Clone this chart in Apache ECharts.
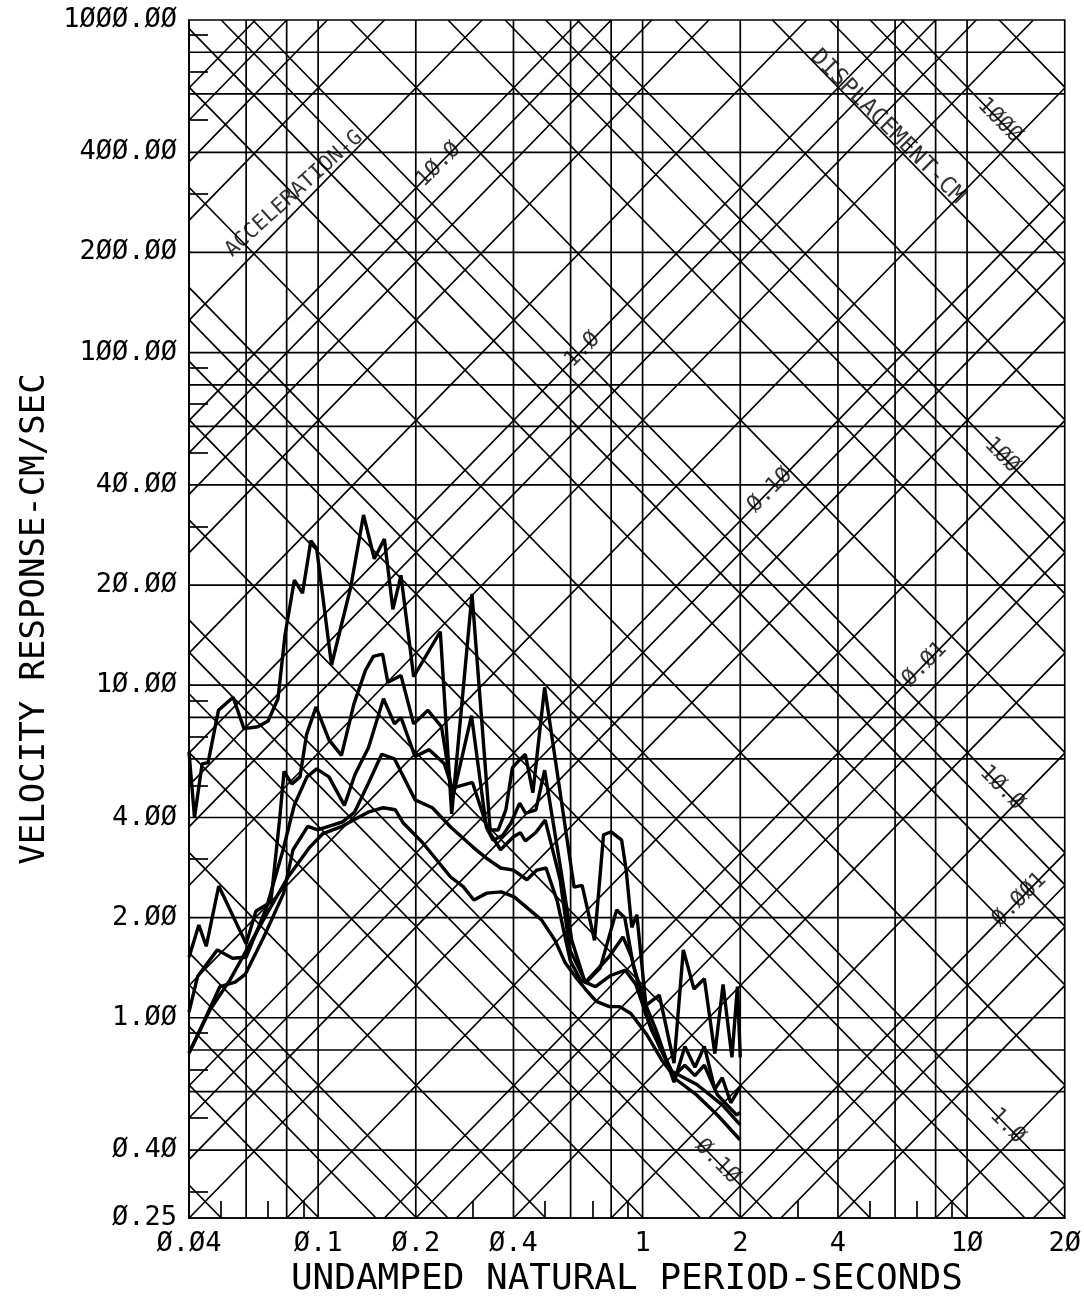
<!DOCTYPE html>
<html>
<head>
<meta charset="utf-8">
<title>Velocity response spectrum</title>
<script src="https://cdn.jsdelivr.net/npm/echarts@6/dist/echarts.min.js"></script>
<style>
  html, body { margin: 0; padding: 0; background: #fff; }
  #chart { width: 1084px; height: 1303px; }
</style>
</head>
<body>
<div id="chart"></div>
<script>
// damping curves: period (s) and velocity response (cm/sec)
var periods0 = [0.040,0.0416,0.0439,0.0458,0.0493,0.0547,0.0591,0.0652,0.0701,0.0752,0.0791,0.0845,0.0895,0.095,0.099,0.110,0.126,0.138,0.149,0.160,0.170,0.180,0.197,0.238,0.258,0.298,0.339,0.359,0.379,0.397,0.417,0.435,0.459,0.499,0.615,0.651,0.711,0.758,0.800,0.862,0.890,0.926,0.960,1.024,1.126,1.25,1.335,1.44,1.55,1.67,1.77,1.885,1.96,2.0];
var velocity0 = [6.3,4.0,5.8,5.85,8.4,9.2,7.4,7.5,7.8,9.1,14.2,20.7,18.9,27.2,25.7,11.5,19.7,32.5,24,27.5,16.9,21.4,10.6,14.5,4.1,18.8,3.67,3.67,4.22,5.65,5.95,6.2,4.75,9.85,2.47,2.5,1.71,3.55,3.62,3.42,2.78,1.87,2.04,1.09,1.17,0.73,1.60,1.22,1.31,0.78,1.26,0.76,1.24,0.76];

var periods2 = [0.040,0.0429,0.0452,0.0494,0.060,0.0643,0.0715,0.0762,0.0785,0.083,0.0879,0.0921,0.0985,0.108,0.118,0.129,0.140,0.148,0.158,0.164,0.180,0.197,0.218,0.240,0.260,0.297,0.330,0.346,0.371,0.393,0.418,0.436,0.469,0.499,0.560,0.605,0.666,0.740,0.832,0.881,0.937,1.024,1.10,1.25,1.35,1.45,1.55,1.67,1.76,1.87,2.0];
var velocity2 = [1.52,1.90,1.64,2.49,1.67,2.09,2.23,4.0,5.5,5.05,5.3,7.1,8.6,6.85,6.15,8.8,11.1,12.2,12.4,10.2,10.7,7.65,8.4,7.5,4.6,8.1,3.74,3.42,3.54,3.85,4.42,4.12,4.22,5.55,2.78,1.71,1.27,1.41,2.11,2.0,1.43,1.09,0.92,0.64,0.82,0.71,0.82,0.61,0.66,0.555,0.62];

var periods5 = [0.040,0.0425,0.0489,0.0545,0.060,0.0695,0.078,0.0845,0.0924,0.099,0.108,0.1205,0.130,0.143,0.159,0.172,0.180,0.199,0.220,0.245,0.259,0.299,0.334,0.365,0.400,0.420,0.435,0.468,0.501,0.557,0.597,0.667,0.786,0.870,0.925,1.02,1.14,1.25,1.35,1.45,1.55,1.70,1.82,1.95,2.0];
var velocity5 = [1.04,1.33,1.60,1.51,1.52,2.16,3.20,4.37,5.3,5.6,5.3,4.35,5.4,6.5,9.1,7.65,8.0,6.1,6.4,5.8,4.9,5.1,3.67,3.2,3.5,3.6,3.4,3.6,3.93,2.6,1.6,1.28,1.52,1.75,1.52,1.03,0.80,0.67,0.72,0.67,0.72,0.587,0.547,0.51,0.52];

var periods10 = [0.040,0.0428,0.0498,0.0555,0.0596,0.068,0.0783,0.0837,0.0929,0.0997,0.119,0.1295,0.143,0.157,0.172,0.199,0.225,0.2565,0.300,0.330,0.365,0.400,0.440,0.472,0.504,0.546,0.598,0.643,0.716,0.797,0.885,0.953,1.064,1.23,1.47,1.76,2.0];
var velocity10 = [0.783,0.90,1.24,1.28,1.35,1.75,2.37,3.2,3.76,3.67,3.88,4.15,5.08,6.2,6.0,4.52,4.28,3.74,3.26,3.02,2.82,2.78,2.6,2.78,2.82,2.24,1.49,1.30,1.24,1.34,1.39,1.26,0.92,0.69,0.63,0.547,0.476];

var periods20 = [0.040,0.0464,0.0535,0.0613,0.0706,0.081,0.0943,0.1035,0.119,0.1435,0.1585,0.173,0.183,0.210,0.256,0.280,0.302,0.331,0.367,0.402,0.441,0.488,0.537,0.578,0.620,0.666,0.720,0.790,0.850,0.920,1.03,1.145,1.275,1.47,1.70,2.0];
var velocity20 = [0.783,1.055,1.30,1.65,2.11,2.66,3.26,3.58,3.77,4.16,4.28,4.22,3.85,3.36,2.65,2.48,2.26,2.37,2.39,2.31,2.14,1.97,1.71,1.46,1.33,1.22,1.12,1.08,1.08,1.03,0.89,0.747,0.65,0.585,0.51,0.429];

// axes
var periodLabels = [0.04, 0.1, 0.2, 0.4, 1, 2, 4, 10, 20];
var periodGrid = [0.06, 0.08, 0.1, 0.2, 0.4, 0.6, 0.8, 1, 2, 4, 6, 8, 10];
var periodTicks = [0.05, 0.07, 0.09, 0.3, 0.5, 0.7, 0.9, 3, 5, 7, 9];
var velocityLabels = [1000, 400, 200, 100, 40, 20, 10, 4, 2, 1, 0.4, 0.25];
var velocityGrid = [800, 600, 400, 200, 100, 80, 60, 40, 20, 10, 8, 6, 4, 2, 1, 0.8, 0.6, 0.4];
var velocityTicks = [900, 700, 500, 300, 90, 70, 50, 30, 9, 7, 5, 3, 0.9, 0.7, 0.5, 0.3];

// diagonal scales (acceleration in g, displacement in cm)
var diagSteps = [1, 2, 4, 6, 8];
var accelDecades = [-5, -4, -3, -2, -1, 0, 1, 2];
var dispDecades = [-3, -2, -1, 0, 1, 2, 3];
var accelLevels = [10, 1, 0.1, 0.01, 0.001];
var accelLabelPeriods = [0.235, 0.653, 2.47, 7.4, 14.5];
var accelLabelTexts = ['1Ø.Ø', '1.Ø', 'Ø.1Ø', 'Ø.Ø1', 'Ø.ØØ1'];
var dispLevels = [1000, 100, 10, 1, 0.1];
var dispLabelPeriods = [12.6, 12.8, 12.8, 13.3, 1.7];
var dispLabelTexts = ['1ØØØ', '1ØØ', '1Ø.Ø', '1.Ø', 'Ø.1Ø'];

var G = 981;
var TMIN = 0.04, TMAX = 20, VMIN = 0.25, VMAX = 1000;
var FONT = 'DejaVu Sans Mono';

function plotterText(s) { return String(s).replace(/0/g, 'Ø'); }

function accelV(a, t) { return a * G * t / (2 * Math.PI); }
function dispV(d, t) { return 2 * Math.PI * d / t; }

var lt0 = Math.log10(TMIN), lt1 = Math.log10(TMAX);
var lv0 = Math.log10(VMIN), lv1 = Math.log10(VMAX);

function accelSegment(a) {
    var c = Math.log10(a * G / (2 * Math.PI));
    var s = Math.max(lt0, lv0 - c), e = Math.min(lt1, lv1 - c);
    if (e <= s) return null;
    return [[Math.pow(10, s), Math.pow(10, c + s)], [Math.pow(10, e), Math.pow(10, c + e)]];
}
function dispSegment(d) {
    var c = Math.log10(2 * Math.PI * d);
    var s = Math.max(lt0, c - lv1), e = Math.min(lt1, c - lv0);
    if (e <= s) return null;
    return [[Math.pow(10, s), Math.pow(10, c - s)], [Math.pow(10, e), Math.pow(10, c - e)]];
}

function gridLine(points) {
    return {
        type: 'line', data: points, symbol: 'none', silent: true,
        lineStyle: { color: '#000', width: 1.7 }, z: 1
    };
}

var series = [];
periodGrid.forEach(function (t) { series.push(gridLine([[t, VMIN], [t, VMAX]])); });
velocityGrid.forEach(function (v) { series.push(gridLine([[TMIN, v], [TMAX, v]])); });
accelDecades.forEach(function (k) {
    diagSteps.forEach(function (m) {
        var seg = accelSegment(m * Math.pow(10, k));
        if (seg) series.push(gridLine(seg));
    });
});
dispDecades.forEach(function (k) {
    diagSteps.forEach(function (m) {
        var seg = dispSegment(m * Math.pow(10, k));
        if (seg) series.push(gridLine(seg));
    });
});

var curves = [
    [periods0, velocity0], [periods2, velocity2], [periods5, velocity5],
    [periods10, velocity10], [periods20, velocity20]
];
curves.forEach(function (c) {
    series.push({
        type: 'line', symbol: 'none', silent: true, z: 3,
        data: c[0].map(function (t, i) { return [t, c[1][i]]; }),
        lineStyle: { color: '#000', width: 3.4 }
    });
});

// scale labels written along the diagonals
var notes = [];
accelLevels.forEach(function (a, i) {
    var t = accelLabelPeriods[i];
    notes.push({ value: [t, accelV(a, t)], label: { formatter: accelLabelTexts[i], rotate: 45 } });
});
dispLevels.forEach(function (d, i) {
    var t = dispLabelPeriods[i];
    notes.push({ value: [t, dispV(d, t)], label: { formatter: dispLabelTexts[i], rotate: -45 } });
});
notes.push({ value: [0.0843, 300], label: { formatter: 'ACCELERATION-G', rotate: 42, fontSize: 21 } });
notes.push({ value: [5.68, 477], label: { formatter: 'DISPLACEMENT-CM', rotate: -45, fontSize: 23 } });

series.push({
    type: 'scatter', data: notes, symbolSize: 1, silent: true, z: 4,
    itemStyle: { color: 'rgba(0,0,0,0)' },
    label: {
        show: true, position: 'inside', color: '#000',
        fontFamily: FONT, fontSize: 22, align: 'center', verticalAlign: 'middle'
    }
});

var chart = echarts.init(document.getElementById('chart'));
chart.setOption({
    backgroundColor: '#fff',
    animation: false,
    grid: {
        left: 189, right: 19, top: 20, bottom: 85,
        show: true, borderColor: '#000', borderWidth: 1.7
    },
    xAxis: {
        type: 'log', logBase: 10, min: TMIN, max: TMAX,
        name: 'UNDAMPED NATURAL PERIOD-SECONDS', nameLocation: 'middle', nameGap: 44,
        nameTextStyle: { fontFamily: FONT, fontSize: 36, color: '#000' },
        axisLine: { show: true, lineStyle: { color: '#000', width: 1.7 } },
        axisTick: { show: true, inside: true, length: 17, customValues: periodTicks,
            lineStyle: { color: '#000', width: 1.7 } },
        axisLabel: { show: true, customValues: periodLabels, margin: 12,
            fontFamily: FONT, fontSize: 27, color: '#000',
            formatter: function (v) { return plotterText(v); } },
        splitLine: { show: false },
        minorTick: { show: false }
    },
    yAxis: {
        type: 'log', logBase: 10, min: VMIN, max: VMAX,
        name: 'VELOCITY RESPONSE-CM/SEC', nameLocation: 'middle', nameGap: 133, nameRotate: 90,
        nameTextStyle: { fontFamily: FONT, fontSize: 34, color: '#000' },
        axisLine: { show: true, lineStyle: { color: '#000', width: 1.7 } },
        axisTick: { show: true, inside: true, length: 19, customValues: velocityTicks,
            lineStyle: { color: '#000', width: 1.7 } },
        axisLabel: { show: true, customValues: velocityLabels, margin: 12,
            fontFamily: FONT, fontSize: 27, color: '#000',
            formatter: function (v) { return plotterText(v.toFixed(2)); } },
        splitLine: { show: false },
        minorTick: { show: false }
    },
    series: series
});
</script>
</body>
</html>
